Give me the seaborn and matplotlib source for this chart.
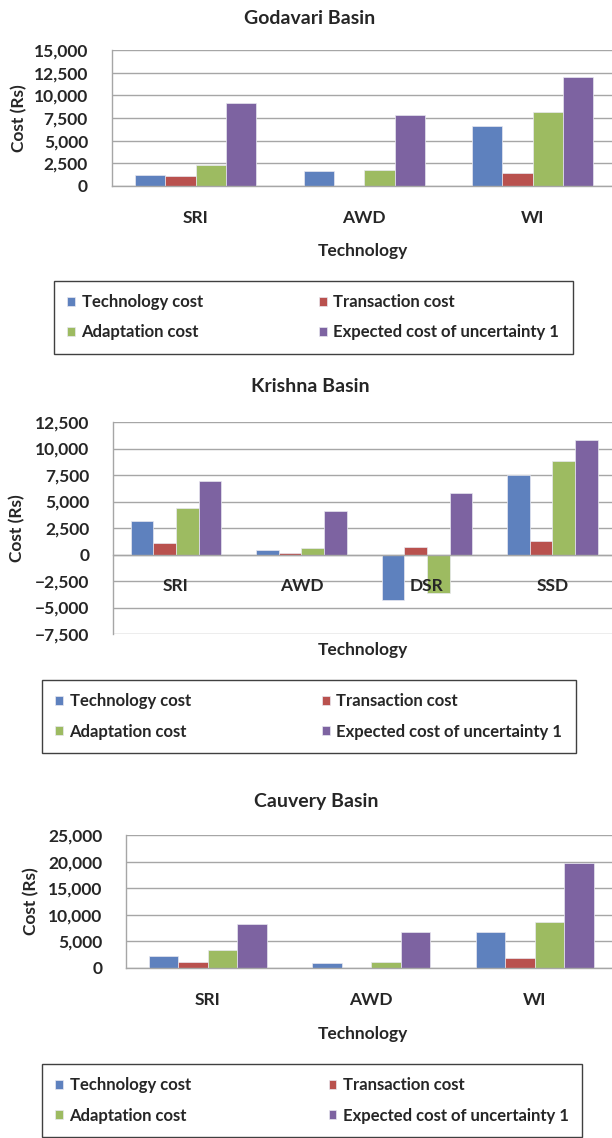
import matplotlib
matplotlib.use("Agg")
import matplotlib.pyplot as plt
from matplotlib.ticker import FuncFormatter, FixedLocator
import pandas as pd
import seaborn as sns

# series and colours (Excel 2007 style palette)
series_names = ["Technology cost", "Transaction cost", "Adaptation cost",
                "Expected cost of uncertainty 1"]
series_colors = ["#5E81BE", "#B9514E", "#9DBB61", "#7D63A1"]

# Godavari basin
godavari_techs = ["SRI", "AWD", "WI"]
godavari_technology = [1260, 1630, 6600]
godavari_transaction = [1070, 0, 1480]
godavari_adaptation = [2370, 1740, 8110]
godavari_uncertainty = [9140, 7780, 12050]

# Krishna basin
krishna_techs = ["SRI", "AWD", "DSR", "SSD"]
krishna_technology = [3180, 410, -4310, 7460]
krishna_transaction = [1100, 125, 690, 1230]
krishna_adaptation = [4380, 570, -3590, 8790]
krishna_uncertainty = [6960, 4060, 5830, 10830]

# Cauvery basin
cauvery_techs = ["SRI", "AWD", "WI"]
cauvery_technology = [2190, 940, 6770]
cauvery_transaction = [1190, 0, 1820]
cauvery_adaptation = [3450, 1070, 8650]
cauvery_uncertainty = [8330, 6770, 19800]

W, H = 612, 1138
GRID = "#A6A6A6"
FS_TICK = 12.5
FS_LABEL = 12.5
FS_TITLE = 14
FS_LEGEND = 12


def fx(px):
    return px / W


def fy(py):
    return 1 - py / H


def to_frame(techs, *cols):
    rows = []
    for name, vals in zip(series_names, cols):
        for t, v in zip(techs, vals):
            rows.append({"Technology": t, "Series": name, "Cost": v})
    return pd.DataFrame(rows)


def money(x, pos):
    return f"{x:,.0f}".replace("-", "\u2212")


def draw_basin(fig, box, df, techs, title, ylim, ystep, xmax, title_pos,
               ylab_x, xlab_pos, legend_pos):
    left, top, right, bottom = box
    ax = fig.add_axes([fx(left), fy(bottom), fx(right) - fx(left), fy(top) - fy(bottom)])
    sns.barplot(data=df, x="Technology", y="Cost", hue="Series", order=techs,
                hue_order=series_names, palette=series_colors, width=0.72,
                saturation=1, edgecolor="#E8E8F0", linewidth=0.5, ax=ax)

    ax.set_xlim(-0.5, xmax)
    ax.set_ylim(*ylim)
    ticks = list(range(ylim[0], ylim[1] + 1, ystep))
    ax.yaxis.set_major_locator(FixedLocator(ticks))
    ax.yaxis.set_major_formatter(FuncFormatter(money))
    ax.set_axisbelow(True)
    ax.grid(axis="y", color=GRID, linewidth=1.0)
    ax.grid(axis="x", visible=False)
    # category names sit on top of the bars (DSR in Krishna)
    ax.xaxis.set_zorder(3)

    for s in ["top", "right"]:
        ax.spines[s].set_visible(False)
    ax.spines["left"].set_color(GRID)
    ax.spines["bottom"].set_color(GRID)
    ax.spines["bottom"].set_position(("data", 0))
    ax.spines["left"].set_linewidth(1.0)
    ax.spines["bottom"].set_linewidth(1.0)

    # category boundaries as minor tick marks
    ax.set_xticks([i - 0.5 for i in range(len(techs))], minor=True)
    ax.tick_params(axis="x", which="minor", length=5, color=GRID, width=1)
    ax.tick_params(axis="x", which="major", length=0, pad=17, labelsize=FS_TICK)
    ax.tick_params(axis="y", length=5, color=GRID, width=1, pad=12, labelsize=FS_TICK)
    for lab in ax.get_xticklabels() + ax.get_yticklabels():
        lab.set_fontweight("bold")

    ax.set_xlabel("Technology", fontsize=FS_LABEL, fontweight="bold")
    ax.xaxis.set_label_coords(fx(xlab_pos[0]), fy(xlab_pos[1]), transform=fig.transFigure)
    ax.xaxis.label.set_verticalalignment("center")
    ax.set_ylabel("Cost (Rs)", fontsize=FS_LABEL, fontweight="bold")
    ax.yaxis.set_label_coords(fx(ylab_x), fy((top + bottom) / 2), transform=fig.transFigure)
    ax.yaxis.label.set_verticalalignment("center")

    fig.text(fx(title_pos[0]), fy(title_pos[1]), title, ha="center", va="center",
             fontsize=FS_TITLE, fontweight="bold")

    handles, labels = ax.get_legend_handles_labels()
    ax.get_legend().remove()
    order = [0, 2, 1, 3]
    lx0, ly0, colspace = legend_pos
    leg = fig.legend([handles[i] for i in order], [labels[i] for i in order],
                     loc="upper left", ncol=2,
                     bbox_to_anchor=(fx(lx0), fy(ly0)),
                     borderaxespad=0, fancybox=False, frameon=True,
                     edgecolor="#404040", framealpha=1,
                     handlelength=0.45, handleheight=0.45, handletextpad=0.4,
                     labelspacing=0.85, borderpad=0.8, columnspacing=colspace,
                     prop={"weight": "bold", "size": FS_LEGEND})
    leg.get_frame().set_linewidth(1.0)
    return ax


def main():
    sns.set_style("white")
    plt.rcParams["font.family"] = ["Lato", "DejaVu Sans"]
    fig = plt.figure(figsize=(W / 100, H / 100), dpi=100)

    draw_basin(fig, (111.6, 50, 616.8, 186),
               to_frame(godavari_techs, godavari_technology, godavari_transaction,
                        godavari_adaptation, godavari_uncertainty),
               godavari_techs, "Godavari Basin", (0, 15000), 2500, 2.5,
               (310, 18), 19, (363, 251), (54, 281, 7.0))

    draw_basin(fig, (113.2, 422, 615.2, 634),
               to_frame(krishna_techs, krishna_technology, krishna_transaction,
                        krishna_adaptation, krishna_uncertainty),
               krishna_techs, "Krishna Basin", (-7500, 12500), 2500, 3.5,
               (310, 387), 17, (363, 650), (42, 680, 7.9))

    draw_basin(fig, (126, 835, 616.5, 968),
               to_frame(cauvery_techs, cauvery_technology, cauvery_transaction,
                        cauvery_adaptation, cauvery_uncertainty),
               cauvery_techs, "Cauvery Basin", (0, 25000), 5000, 2.5,
               (316, 802), 31, (363, 1034), (42, 1064, 8.3))

    fig.savefig("out.png", dpi=100)


if __name__ == "__main__":
    main()
